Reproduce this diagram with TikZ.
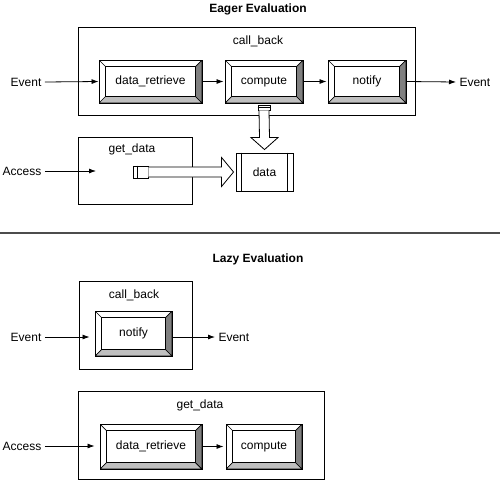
\documentclass[tikz,border=0pt]{standalone}
\usepackage{fontspec}
\setmainfont{Liberation Sans}
\usetikzlibrary{arrows.meta, positioning, calc}
\definecolor{bevelbottom}{gray}{0.75}
\definecolor{bevelright}{gray}{0.5}
\tikzset{
	frame/.style={rectangle, draw, line width=1pt, inner sep=0pt},
	button/.style={rectangle, draw, line width=0.9pt, fill=white, inner sep=0pt, minimum height=43pt,
		text height=8.6pt, text depth=2.4pt,
		path picture={
			\coordinate (bsw) at (path picture bounding box.south west);
			\coordinate (bne) at (path picture bounding box.north east);
			\coordinate (bse) at (path picture bounding box.south east);
			\coordinate (bnw) at (path picture bounding box.north west);
			\filldraw[line width=0.7pt, fill=bevelbottom] (bsw) -- (bse) -- ([shift={(-6.5pt,6.5pt)}]bse) -- ([shift={(6.5pt,6.5pt)}]bsw) -- cycle;
			\filldraw[line width=0.7pt, fill=bevelright] (bse) -- (bne) -- ([shift={(-6.5pt,-6.5pt)}]bne) -- ([shift={(-6.5pt,6.5pt)}]bse) -- cycle;
			\draw[line width=0.8pt] ([shift={(6.5pt,6.5pt)}]bsw) rectangle ([shift={(-6.5pt,-6.5pt)}]bne);
			\draw[line width=0.7pt] (bnw) -- ([shift={(6.5pt,-6.5pt)}]bnw);
		}},
	store/.style={rectangle, draw, line width=0.9pt, inner sep=0pt, minimum width=57pt, minimum height=38pt},
	port/.style={rectangle, draw, line width=0.8pt, fill=white, inner sep=0pt},
	hollow/.style={draw, line width=0.8pt, fill=white, line join=miter},
	arr/.style={-{Latex[length=7pt, width=5pt]}, line width=0.8pt},
	heading/.style={font=\fontsize{12}{14}\selectfont\bfseries}
}
\begin{document}
\begin{tikzpicture}[x=1pt, y=-1pt, font=\fontsize{12}{14}\selectfont]
	\useasboundingbox (0,0) rectangle (500,482);

	% eager evaluation
	\node[heading] (eagerT) at (258,9) {Eager Evaluation};
	\node[frame, minimum width=337pt, minimum height=88pt] (cbE) at (246.5,71) {};
	\node (cbEt) at (258,41) {call\_back};
	\node[button, minimum width=103pt] (drE) at (150.5,81.5) {data\_retrieve};
	\node[button, minimum width=78pt] (cpE) at (264,81.5) {compute};
	\node[button, minimum width=78pt] (ntE) at (367,81.5) {notify};
	\node (evEi) at (26,82) {Event};
	\node[anchor=west] (evEo) at (456,82) {Event};

	\node[frame, minimum width=114pt, minimum height=67pt] (gdE) at (135,170.5) {};
	\node (gdEt) at (132,149) {get\_data};
	\node[store] (data) at (264.5,172) {data};
	\draw[line width=0.8pt] ([xshift=6pt]data.north west) -- ([xshift=6pt]data.south west);
	\draw[line width=0.8pt] ([xshift=-6pt]data.north east) -- ([xshift=-6pt]data.south east);
	\node (accE) at (22,171) {Access};
	\coordinate (accEend) at (96,171);

	\draw[arr] (evEi.east) -- (drE.west);
	\draw[arr, shorten >=1pt] (drE) -- (cpE);
	\draw[arr, shorten >=1pt] (cpE) -- (ntE);
	\draw[arr] (ntE.east) -- (evEo.west);
	\draw[arr] (accE.east) -- (accEend);

	% compute writes data
	\node[port, minimum width=12pt, minimum height=5pt] (cpPort) at (264,107.5) {};
	\draw[line width=0.6pt] (cpPort.west) -- (cpPort.east);
	\coordinate (dTip) at ($(data.north)+(0,-3)$);
	\draw[hollow] ($(cpPort.south)+(-5,0)$) -- ($(dTip)+(-5,-12)$) -- ($(dTip)+(-13.5,-12)$) -- (dTip)
		-- ($(dTip)+(13.5,-12)$) -- ($(dTip)+(5,-12)$) -- ($(cpPort.south)+(5,0)$);

	% get_data reads data
	\node[port, minimum width=15pt, minimum height=12pt] (gdPort) at (140.5,172) {};
	\draw[line width=0.8pt] ([xshift=4.5pt]gdPort.north west) -- ([xshift=4.5pt]gdPort.south west);
	\coordinate (hTip) at ($(data.west)+(-2,0)$);
	\draw[hollow] ($(gdPort.east)+(0,-5)$) -- ($(hTip)+(-12,-5)$) -- ($(hTip)+(-12,-14.5)$) -- (hTip)
		-- ($(hTip)+(-12,14.5)$) -- ($(hTip)+(-12,5)$) -- ($(gdPort.east)+(0,5)$);

	% separator
	\coordinate (sepL) at (0,233);
	\coordinate (sepR) at (500,233);
	\draw[line width=1.6pt, gray!60!black] (sepL) -- (sepR);

	% lazy evaluation
	\node[heading] (lazyT) at (258,259) {Lazy Evaluation};
	\node[frame, minimum width=113pt, minimum height=88pt] (cbL) at (135.5,325) {};
	\node (cbLt) at (134,295) {call\_back};
	\node[button, minimum width=77pt, minimum height=45pt] (ntL) at (133.5,333.5) {notify};
	\node (evLi) at (26,337) {Event};
	\node[anchor=west] (evLo) at (215,337) {Event};
	\draw[arr, shorten >=5pt] (evLi.east) -- (evLi.east -| ntL.west);
	\draw[arr] (evLo.west -| ntL.east) -- (evLo.west);

	\node[frame, minimum width=246pt, minimum height=88pt] (gdL) at (201,435) {};
	\node (gdLt) at (200,405) {get\_data};
	\node[button, minimum width=102pt, minimum height=45pt] (drL) at (151,446.5) {data\_retrieve};
	\node[button, minimum width=76pt, minimum height=45pt] (cpL) at (264,446.5) {compute};
	\node (accL) at (22,446) {Access};
	\draw[arr, shorten >=5pt] (accL.east) -- (accL.east -| drL.west);
	\draw[arr, shorten >=2pt] (drL) -- (cpL);
\end{tikzpicture}
\end{document}
